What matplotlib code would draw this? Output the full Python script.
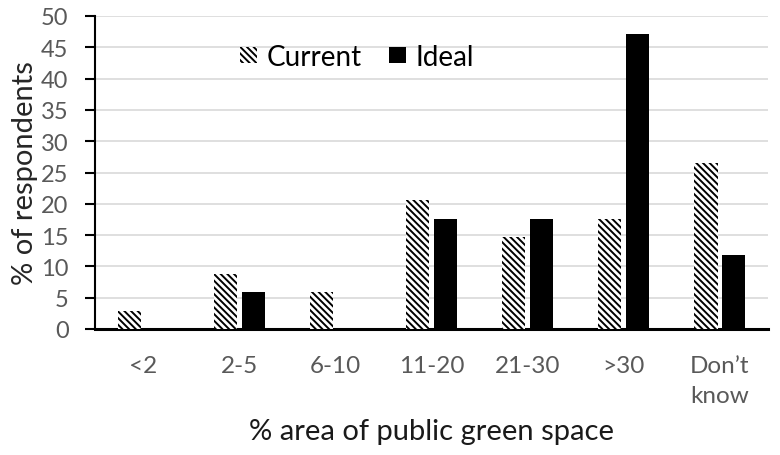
import matplotlib
matplotlib.use("Agg")
import matplotlib.pyplot as plt
import numpy as np

categories = ["<2", "2-5", "6-10", "11-20", "21-30", ">30", "Don\u2019t\nknow"]
current = [2.9, 8.8, 5.9, 20.6, 14.7, 17.6, 26.5]
ideal = [0.0, 5.9, 0.0, 17.6, 17.6, 47.1, 11.8]
yticks = [0, 5, 10, 15, 20, 25, 30, 35, 40, 45, 50]

plt.rcParams['font.family'] = ['Lato', 'DejaVu Sans']
plt.rcParams['hatch.linewidth'] = 1.4
plt.rcParams['hatch.color'] = 'black'

fig = plt.figure(figsize=(7.8, 4.56), dpi=100)
ax = fig.add_axes([95/780, 1 - 330/456, 673/780, 313/456])

x = np.arange(len(categories))
w = 0.24
off = 0.145
ax.bar(x - off, current, w, color='white', edgecolor='black', linewidth=0,
       hatch='\\\\\\\\\\', label='Current', zorder=3)
ax.bar(x + off, ideal, w, color='black', linewidth=0, label='Ideal', zorder=3)

ax.set_xlim(-0.5, len(categories) - 0.5)
ax.set_ylim(0, 50)
ax.set_yticks(yticks)
ax.set_xticks(x)
ax.set_xticklabels(categories, linespacing=1.5)
ax.yaxis.grid(True, color='#d9d9d9', linewidth=1.2, zorder=0)
ax.set_axisbelow(True)

for s in ['top', 'right']:
    ax.spines[s].set_visible(False)
ax.spines['left'].set_linewidth(1.5)
ax.spines['bottom'].set_linewidth(2.2)
ax.spines['left'].set_color('black')
ax.spines['bottom'].set_color('black')

ax.tick_params(axis='y', direction='out', length=7, width=1.5, color='black',
               labelsize=17, labelcolor='#595959', pad=12)
ax.tick_params(axis='x', length=0, labelsize=17.5, labelcolor='#595959', pad=19)

ax.set_ylabel('% of respondents', fontsize=21, color='#262626')
ax.yaxis.set_label_coords(-0.085, 0.5)
ax.set_xlabel('% area of public green space', fontsize=21, color='#1a1a1a')
ax.xaxis.set_label_coords(0.5, -0.284)

leg = ax.legend(loc='center left', bbox_to_anchor=((240 - 95) / 673, (330 - 58) / 313),
                ncol=2, frameon=False, fontsize=20, handlelength=0.6, handleheight=0.5,
                columnspacing=1.0, handletextpad=0.35, borderpad=0, borderaxespad=0)

fig.savefig('out.png', dpi=100)
